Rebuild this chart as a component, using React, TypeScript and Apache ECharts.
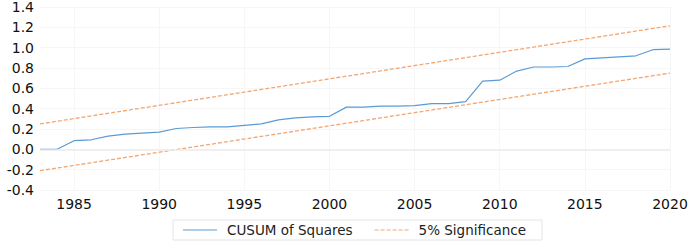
import React, { useEffect, useRef } from "react";
import * as echarts from "echarts";

const years: string[] = [];
for (let y = 1983; y <= 2020; y++) years.push(String(y));

const cusum = [
  0.0, 0.0, 0.085, 0.094, 0.13, 0.15, 0.16, 0.17, 0.205, 0.215,
  0.22, 0.22, 0.235, 0.25, 0.29, 0.31, 0.32, 0.325, 0.415, 0.415,
  0.425, 0.425, 0.43, 0.45, 0.45, 0.47, 0.67, 0.68, 0.77, 0.81,
  0.81, 0.815, 0.89, 0.90, 0.91, 0.92, 0.98, 0.985,
];

// Significance bounds: straight lines, endpoints
const upperEnds = { start: 0.25, end: 1.215 };
const lowerEnds = { start: -0.21, end: 0.75 };

const yTicks = { min: -0.4, max: 1.4, interval: 0.2 };

function endpointsSeries(ends: { start: number; end: number }) {
  return years.map((_, i) =>
    i === 0 ? ends.start : i === years.length - 1 ? ends.end : null
  );
}

const solidIcon = "path://M0,0h34v1.2h-34z";
const dashedIcon =
  "path://M0,0h4v1.2h-4z M6,0h4v1.2h-4z M12,0h4v1.2h-4z M18,0h4v1.2h-4z M24,0h4v1.2h-4z M30,0h4v1.2h-4z";

export default function App() {
  const ref = useRef<HTMLDivElement>(null);
  useEffect(() => {
    if (!ref.current) return;
    const chart = echarts.init(ref.current, undefined, { renderer: "svg" });
    const font = "DejaVu Sans, Verdana, sans-serif";
    const orange = "#F5A670";
    const blue = "#5B9BD5";
    chart.setOption({
      animation: false,
      textStyle: { fontFamily: font },
      grid: { left: 40, right: 22, top: 5, bottom: 51, containLabel: false },
      legend: {
        left: 173,
        top: 220,
        height: 19,
        padding: [3, 16, 3, 10],
        borderColor: "#e4e4e4",
        borderWidth: 1,
        itemWidth: 34,
        itemHeight: 10,
        itemGap: 22,
        textStyle: {
          fontFamily: font,
          fontSize: 13.5,
          color: "#222",
          padding: [0, 0, 0, 5],
        },
        data: [
          { name: "CUSUM of Squares", icon: solidIcon },
          { name: "5% Significance", icon: dashedIcon },
        ],
      },
      xAxis: {
        type: "category",
        data: years,
        boundaryGap: false,
        axisLine: { show: false },
        axisTick: { show: false },
        axisLabel: {
          interval: (i: number, v: string) => Number(v) % 5 === 0,
          fontSize: 14,
          color: "#111",
          margin: 7,
          fontFamily: font,
        },
        splitLine: {
          show: true,
          interval: (i: number, v: string) => Number(v) % 5 === 0,
          lineStyle: { color: "#f6f6f6", width: 1 },
        },
      },
      yAxis: {
        type: "value",
        min: yTicks.min,
        max: yTicks.max,
        interval: yTicks.interval,
        axisLine: { show: false },
        axisTick: { show: false },
        axisLabel: {
          fontSize: 14,
          color: "#111",
          margin: 6,
          fontFamily: font,
          formatter: (v: number) => v.toFixed(1),
        },
        splitLine: { show: true, lineStyle: { color: "#f6f6f6", width: 1 } },
      },
      series: [
        {
          name: "CUSUM of Squares",
          type: "line",
          data: cusum,
          symbol: "none",
          lineStyle: { color: blue, width: 1.2 },
          itemStyle: { color: blue },
          markLine: {
            silent: true,
            symbol: "none",
            label: { show: false },
            lineStyle: { color: "#ebebeb", width: 1.5, type: "solid" },
            data: [{ yAxis: 0 }],
          },
          z: 3,
        },
        {
          name: "5% Significance",
          type: "line",
          data: endpointsSeries(upperEnds),
          connectNulls: true,
          symbol: "none",
          lineStyle: { color: orange, width: 1.3, type: [4, 2] },
          itemStyle: { color: orange },
        },
        {
          name: "5% Significance",
          type: "line",
          data: endpointsSeries(lowerEnds),
          connectNulls: true,
          symbol: "none",
          lineStyle: { color: orange, width: 1.3, type: [4, 2] },
          itemStyle: { color: orange },
        },
      ],
    });
    return () => chart.dispose();
  }, []);
  return (
    <div
      ref={ref}
      style={{ position: "fixed", left: 0, top: 0, width: 692, height: 241, background: "#fff" }}
    />
  );
}
